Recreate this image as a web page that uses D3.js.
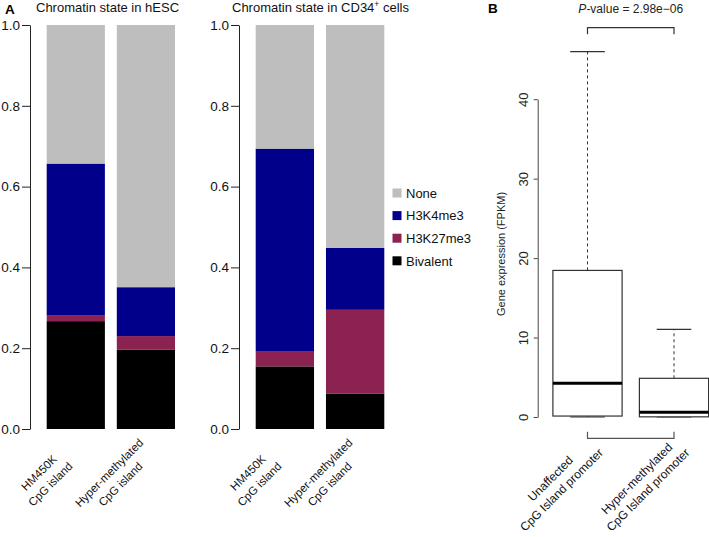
<!DOCTYPE html>
<html>
<head>
<meta charset="utf-8">
<script src="https://cdn.jsdelivr.net/npm/d3@7"></script>
<style>
  html, body { margin: 0; padding: 0; background: #fff; }
  svg { display: block; font-family: "Liberation Sans", Arial, sans-serif; }
</style>
</head>
<body>
<svg id="chart" width="709" height="537"></svg>
<script>
// ---------- Data ----------
const barCategories = ["HM450K\nCpG island", "Hyper-methylated\nCpG island"];
const states = ["Bivalent", "H3K27me3", "H3K4me3", "None"];
const stateColors = ["#000000", "#8B2252", "#00008B", "#BEBEBE"];
const legendOrder = ["None", "H3K4me3", "H3K27me3", "Bivalent"];

// fractions per state for [HM450K, Hyper-methylated]
const hescBivalent = [0.267, 0.196];
const hescH3K27me3 = [0.015, 0.034];
const hescH3K4me3  = [0.375, 0.121];
const hescNone     = [0.343, 0.649];

const cd34Bivalent = [0.155, 0.088];
const cd34H3K27me3 = [0.038, 0.207];
const cd34H3K4me3  = [0.501, 0.153];
const cd34None     = [0.306, 0.552];

const barTicks = [0, 0.2, 0.4, 0.6, 0.8, 1.0];

const boxGroups = ["Unaffected\nCpG Island promoter", "Hyper-methylated\nCpG Island promoter"];
const boxMin    = [0, 0];
const boxQ1     = [0.12, 0.02];
const boxMedian = [4.24, 0.59];
const boxQ3     = [18.45, 4.87];
const boxMax    = [46.0, 11.03];
const boxTicks  = [0, 10, 20, 30, 40];
const pValueText = "-value = 2.98e\u221206";

// ---------- Setup ----------
const svg = d3.select("#chart");
const FONT = 13;

const yBar = d3.scaleLinear().domain([0, 1]).range([429, 25]);

function drawStack(panel) {
  const g = svg.append("g");
  const x = d3.scaleBand().domain(barCategories)
    .range([panel.x0, panel.x1]).paddingInner(0.17).paddingOuter(0);
  const rows = barCategories.map((c, i) => {
    const r = { cat: c };
    states.forEach((s, k) => r[s] = panel.values[k][i]);
    return r;
  });
  const series = d3.stack().keys(states)(rows);
  series.forEach((ser, k) => {
    g.selectAll(null).data(ser).enter().append("rect")
      .attr("x", d => x(d.data.cat))
      .attr("width", x.bandwidth())
      .attr("y", d => yBar(d[1]))
      .attr("height", d => yBar(d[0]) - yBar(d[1]))
      .attr("fill", stateColors[k]);
  });
  // axis
  const ax = g.append("g").attr("transform", `translate(${panel.axisX},0)`)
    .call(d3.axisLeft(yBar).tickValues(barTicks).tickFormat(d3.format(".1f")).tickSize(8).tickSizeOuter(0));
  ax.select(".domain").attr("stroke", "#222");
  ax.selectAll(".tick line").attr("stroke", "#222");
  ax.selectAll(".tick text").attr("font-size", 13.5).attr("fill", "#111")
    .attr("font-family", "Liberation Sans, Arial, sans-serif").attr("x", -10);
  // title
  const t = g.append("text").attr("x", panel.titleX).attr("y", 12)
    .attr("font-size", FONT).attr("fill", "#111");
  t.append("tspan").text(panel.title);
  if (panel.sup) {
    t.append("tspan").attr("font-size", 8.5).attr("dy", -5).text(panel.sup);
    t.append("tspan").attr("dy", 5).text(panel.titleEnd);
  }
  // x labels
  barCategories.forEach(c => {
    const cx = x(c) + x.bandwidth() / 2;
    const lg = g.append("g").attr("transform", `translate(${cx},429) rotate(-45)`);
    c.split("\n").forEach((line, i) => {
      lg.append("text").attr("x", -57).attr("y", 9 + i * 16)
        .attr("text-anchor", "middle").attr("font-size", 11.5).attr("fill", "#111")
        .text(line);
    });
  });
}

drawStack({
  x0: 46.7, x1: 175, axisX: 30, titleX: 36, title: "Chromatin state in hESC",
  values: [hescBivalent, hescH3K27me3, hescH3K4me3, hescNone]
});
drawStack({
  x0: 255.7, x1: 384.3, axisX: 239, titleX: 232, title: "Chromatin state in CD34",
  sup: "+", titleEnd: " cells",
  values: [cd34Bivalent, cd34H3K27me3, cd34H3K4me3, cd34None]
});

// Legend
const legend = svg.append("g");
legendOrder.forEach((s, i) => {
  const cy = 193 + i * 22.6;
  legend.append("rect").attr("x", 392.5).attr("y", cy - 4.5).attr("width", 9).attr("height", 9)
    .attr("fill", stateColors[states.indexOf(s)]);
  legend.append("text").attr("x", 406).attr("y", cy + 4.7).attr("font-size", FONT)
    .attr("fill", "#111").text(s);
});

// Panel letters
svg.append("text").attr("x", 5).attr("y", 13.5).attr("font-size", 13.5).attr("font-weight", "bold").text("A");
svg.append("text").attr("x", 488).attr("y", 12.5).attr("font-size", 13.5).attr("font-weight", "bold").text("B");

// ---------- Boxplot ----------
const gb = svg.append("g");
const yBox = d3.scaleLinear().domain([0, 40]).range([417, 99.2]);
const xBox = d3.scalePoint().domain(boxGroups).range([587.5, 674]);
const boxW = 0.8 * (xBox(boxGroups[1]) - xBox(boxGroups[0]));
const stroke = "#333";

boxGroups.forEach((grp, i) => {
  const cx = xBox(grp);
  // whiskers
  gb.append("line").attr("x1", cx).attr("x2", cx).attr("y1", yBox(boxQ3[i])).attr("y2", yBox(boxMax[i]))
    .attr("stroke", stroke).attr("stroke-dasharray", "3,3");
  gb.append("line").attr("x1", cx).attr("x2", cx).attr("y1", yBox(boxQ1[i])).attr("y2", yBox(boxMin[i]))
    .attr("stroke", stroke).attr("stroke-dasharray", "3,3");
  // caps
  [boxMax[i], boxMin[i]].forEach(v => {
    gb.append("line").attr("x1", cx - boxW / 4).attr("x2", cx + boxW / 4)
      .attr("y1", yBox(v)).attr("y2", yBox(v)).attr("stroke", stroke).attr("stroke-width", 1.2);
  });
  // box
  gb.append("rect").attr("x", cx - boxW / 2).attr("width", boxW)
    .attr("y", yBox(boxQ3[i])).attr("height", yBox(boxQ1[i]) - yBox(boxQ3[i]))
    .attr("fill", "#fff").attr("stroke", stroke).attr("stroke-width", 1.2);
  // median
  gb.append("line").attr("x1", cx - boxW / 2).attr("x2", cx + boxW / 2)
    .attr("y1", yBox(boxMedian[i])).attr("y2", yBox(boxMedian[i]))
    .attr("stroke", "#000").attr("stroke-width", 3);
  // labels
  const lg = gb.append("g").attr("transform", `translate(${cx},438) rotate(-45)`);
  grp.split("\n").forEach((line, k) => {
    lg.append("text").attr("x", -55).attr("y", 6.6 + k * 15.8)
      .attr("text-anchor", "middle").attr("font-size", 12).attr("fill", "#111").text(line);
  });
});

// y axis
const axB = gb.append("g").attr("transform", "translate(537.7,0)")
  .call(d3.axisLeft(yBox).tickValues(boxTicks).tickFormat(d3.format("d")).tickSize(4).tickSizeOuter(0));
axB.select(".domain").attr("stroke", "#444");
axB.selectAll(".tick line").attr("stroke", "#444");
axB.selectAll(".tick text").attr("font-size", 13).attr("fill", "#222")
  .attr("font-family", "Liberation Sans, Arial, sans-serif")
  .attr("transform", "rotate(-90)").attr("x", 0).attr("y", -10).attr("dy", "0").attr("text-anchor", "middle");

gb.append("text").attr("transform", "translate(505,254) rotate(-90)")
  .attr("text-anchor", "middle").attr("font-size", 11).attr("fill", "#222")
  .text("Gene expression (FPKM)");

// brackets
const bx0 = xBox(boxGroups[0]), bx1 = xBox(boxGroups[1]);
gb.append("path").attr("d", `M${bx0},34.3V27.7H${bx1}V34.3`).attr("fill", "none").attr("stroke", "#333").attr("stroke-width", 1.2);
gb.append("path").attr("d", `M${bx0},431.7V438.3H${bx1}V431.7`).attr("fill", "none").attr("stroke", "#555").attr("stroke-width", 1.2);

const pt = gb.append("text").attr("x", (bx0 + bx1) / 2).attr("y", 13).attr("text-anchor", "middle")
  .attr("font-size", 12).attr("fill", "#222");
pt.append("tspan").attr("font-style", "italic").text("P");
pt.append("tspan").text(pValueText);
</script>
</body>
</html>
